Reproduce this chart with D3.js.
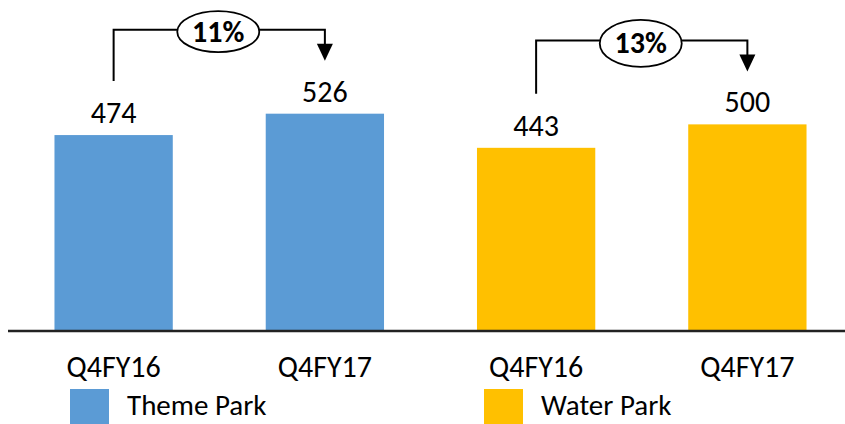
<!DOCTYPE html>
<html><head><meta charset="utf-8">
<script src="https://cdn.jsdelivr.net/npm/d3@7/dist/d3.min.js"></script>
<style>body{margin:0;background:#fff}svg{display:block}text{font-family:Carlito,Lato,"Open Sans",sans-serif}</style>
</head><body>
<svg id="c" width="845" height="424"></svg>
<script>
const categories = ["Q4FY16", "Q4FY17", "Q4FY16", "Q4FY17"];
const seriesNames = ["Theme Park", "Theme Park", "Water Park", "Water Park"];
const values = [474, 526, 443, 500];
const legendNames = ["Theme Park", "Water Park"];
const colors = ["#5B9BD5", "#FFC000"];
const growthLabels = ["11%", "13%"];
const growthPairs = [[0, 1], [2, 3]];

const FS = 30;
const svg = d3.select("#c");
const idx = d3.range(values.length);
const x = d3.scaleBand().domain(idx).range([8, 853]).paddingInner(0.44).paddingOuter(0.22);
const y = d3.scaleLinear().domain([0, 800]).range([330, 1]);
const color = d3.scaleOrdinal().domain(legendNames).range(colors);

svg.selectAll("rect.bar").data(idx).join("rect")
  .attr("class", "bar")
  .attr("x", i => x(i)).attr("width", x.bandwidth())
  .attr("y", i => y(values[i])).attr("height", i => y(0) - y(values[i]))
  .attr("fill", i => color(seriesNames[i]));

// axis baseline
const xAxis = d3.axisBottom(x).tickSize(0).tickPadding(25).tickFormat(i => categories[i]);
const ax = svg.append("g").attr("transform", `translate(0,${y(0)+1})`).call(xAxis);
ax.select(".domain").attr("d", "M8,0H845").attr("stroke", "#222").attr("stroke-width", 2.5);
ax.selectAll("text").attr("font-size", FS).attr("fill", "#000").style("font-family", "Carlito,Lato,sans-serif");

// value labels
svg.selectAll("text.val").data(idx).join("text")
  .attr("class", "val")
  .attr("x", i => x(i) + x.bandwidth() / 2)
  .attr("y", i => y(values[i]) - 12)
  .attr("text-anchor", "middle").attr("font-size", FS).attr("fill", "#000")
  .text(i => values[i]);

// growth brackets
const capH = 20;
growthPairs.forEach((p, k) => {
  const [a, b] = p;
  const xa = x(a) + x.bandwidth() / 2, xb = x(b) + x.bandwidth() / 2;
  const topA = y(values[a]) - 12 - capH, topB = y(values[b]) - 12 - capH;
  const hy = Math.min(topA, topB) - 52;
  const g = svg.append("g");
  g.append("path")
    .attr("d", `M${xa},${topA - 22}V${hy}H${xb}V${topB - 36}`)
    .attr("fill", "none").attr("stroke", "#000").attr("stroke-width", 2);
  g.append("path")
    .attr("d", `M${xb - 8},${topB - 38}L${xb + 8},${topB - 38}L${xb},${topB - 21}Z`)
    .attr("fill", "#000");
  const cx = (xa + xb) / 2 - 1;
  g.append("ellipse").attr("cx", cx).attr("cy", hy + 2 + k * 1)
    .attr("rx", 41).attr("ry", 20.5 + k * 3)
    .attr("fill", "#fff").attr("stroke", "#000").attr("stroke-width", 1.8);
  g.append("text").attr("x", cx).attr("y", hy + 12 + k * 1)
    .attr("text-anchor", "middle").attr("font-size", 30).attr("font-weight", "bold")
    .text(growthLabels[k]);
});

// legend
const legX = [70, 484];
legendNames.forEach((n, k) => {
  svg.append("rect").attr("x", legX[k]).attr("y", 389).attr("width", 39).attr("height", 40).attr("fill", color(n));
  svg.append("text").attr("x", legX[k] + 57).attr("y", 415).attr("font-size", 29).attr("fill", "#000").text(n);
});
</script>
</body></html>
